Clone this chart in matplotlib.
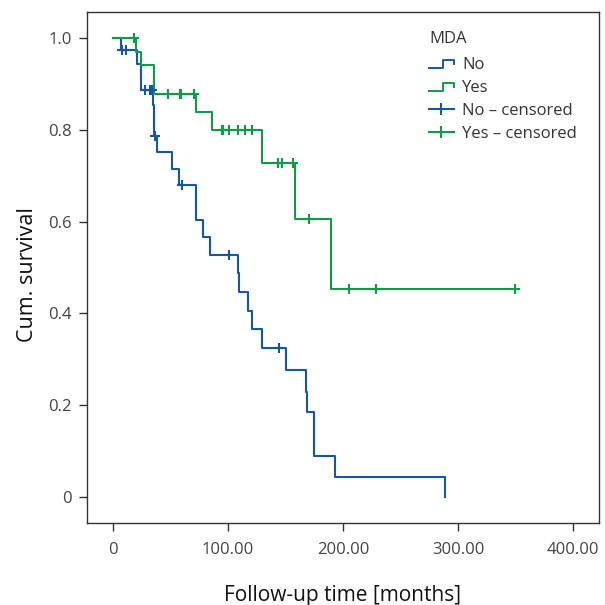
import numpy as np
import matplotlib
matplotlib.use("Agg")
import matplotlib.pyplot as plt
from matplotlib.lines import Line2D
from matplotlib.legend_handler import HandlerBase

plt.rcParams["font.family"] = ["Open Sans", "DejaVu Sans"]

# MDA = No : event times (months) and survival level after each step
times_no = [0, 7, 20.5, 24, 35.0, 35.6, 38.5, 51, 57.5, 72.5, 78, 84.5,
            108.3, 109.6, 117, 120.7, 130, 150.4, 167.5, 168.7, 174.8, 193, 288.7]
surv_no = [1.0, 0.974, 0.943, 0.887, 0.854, 0.786, 0.751, 0.715, 0.679, 0.604,
           0.566, 0.527, 0.488, 0.447, 0.406, 0.365, 0.325, 0.277, 0.229, 0.185,
           0.089, 0.044, 0.0]
cens_no = [7.5, 11.5, 28, 31.8, 34, 36.2, 60, 100.5, 144.6]

# MDA = Yes
times_yes = [0, 20, 24, 35.8, 72.5, 86.4, 129.9, 158.3, 189.3]
surv_yes = [1.0, 0.971, 0.941, 0.878, 0.839, 0.801, 0.727, 0.606, 0.453]
cens_yes = [18.3, 48, 58.3, 59.3, 70.7, 94.5, 96, 101, 108.4, 114.8, 120.6,
            143.8, 146.7, 156.2, 170.4, 205.2, 228.7, 349.6]
end_yes = 349.6

blue = "#1557a3"
green = "#0f9a48"


def level_at(times, surv, t):
    idx = np.searchsorted(times, t, side="right") - 1
    return np.asarray(surv)[idx]


class StepHandler(HandlerBase):
    def create_artists(self, legend, orig_handle, xdescent, ydescent,
                       width, height, fontsize, trans):
        x0, x1 = -xdescent, -xdescent + width
        xm = x0 + 0.55 * width
        ylo, yhi = -ydescent + 0.1 * height, -ydescent + 0.8 * height
        ln = Line2D([x0, xm, xm, x1, x1], [ylo, ylo, yhi, yhi, ylo + 0.3 * height],
                    color=orig_handle.get_color(), lw=1.4, transform=trans)
        return [ln]


fig = plt.figure(figsize=(6.05, 6.05), dpi=100)
ax = fig.add_axes([0.1438, 0.1355, 0.8462, 0.8445])

ax.step(times_no, surv_no, where="post", color=blue, lw=1.5)
t_yes = times_yes + [end_yes]
s_yes = surv_yes + [surv_yes[-1]]
ax.step(t_yes, s_yes, where="post", color=green, lw=1.5)

ax.plot(cens_no, level_at(times_no, surv_no, cens_no), ls="none", marker="+",
        ms=7.5, mew=1.5, color=blue)
ax.plot(cens_yes, level_at(times_yes, surv_yes, cens_yes), ls="none", marker="+",
        ms=7.5, mew=1.5, color=green)

ax.set_xlim(-22.6, 422.6)
ax.set_ylim(-0.057, 1.057)
ax.set_xticks([0, 100, 200, 300, 400])
ax.set_xticklabels(["0", "100.00", "200.00", "300.00", "400.00"])
ax.set_yticks([0, 0.2, 0.4, 0.6, 0.8, 1.0])
ax.set_yticklabels(["0", "0.2", "0.4", "0.6", "0.8", "1.0"])
ax.tick_params(axis="x", length=6, width=1, pad=8, labelsize=12, labelcolor="#444444", color="#333333")
ax.tick_params(axis="y", length=6, width=1, pad=5, labelsize=12, labelcolor="#444444", color="#333333")
for sp in ax.spines.values():
    sp.set_color("#333333")
    sp.set_linewidth(1.0)

ax.set_xlabel("Follow-up time [months]", fontsize=15, labelpad=19, color="#111111")
ax.set_ylabel("Cum. survival", fontsize=15.5, color="#111111")
ax.yaxis.set_label_coords(-0.095, 0.487)

h_no = Line2D([], [], color=blue)
h_yes = Line2D([], [], color=green)
h_cno = Line2D([], [], color=blue, marker="|", ms=9, mew=1.5, lw=1.5)
h_cyes = Line2D([], [], color=green, marker="|", ms=9, mew=1.5, lw=1.5)
leg = ax.legend([h_no, h_yes, h_cno, h_cyes],
                ["No", "Yes", "No \u2013 censored", "Yes \u2013 censored"],
                title="MDA", alignment="left", frameon=False, fontsize=12,
                title_fontsize=12, loc="upper left", bbox_to_anchor=(0.655, 0.977),
                handlelength=1.5, handletextpad=0.5, labelspacing=0.42,
                borderaxespad=0, handler_map={h_no: StepHandler(), h_yes: StepHandler()})
leg._legend_box.sep = 7.5
for txt in leg.get_texts():
    txt.set_color("#333333")
leg.get_title().set_color("#333333")

fig.savefig("out.png", dpi=100)
